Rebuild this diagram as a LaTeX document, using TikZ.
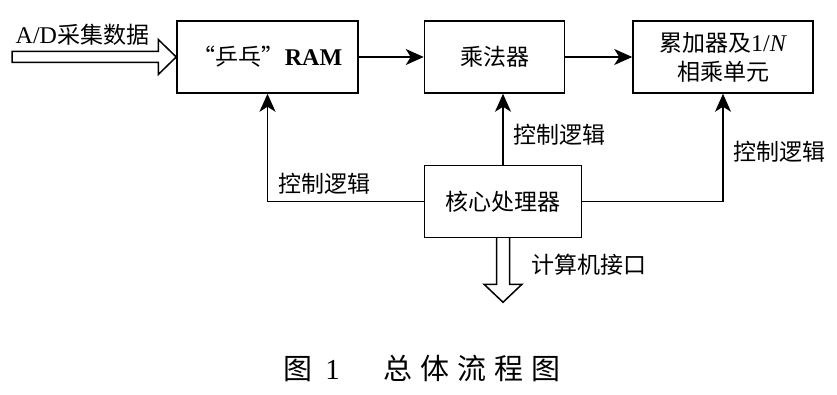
\documentclass[tikz,border=0pt]{standalone}
\usepackage{fontspec}
\setmainfont{Liberation Serif}
\newfontfamily\cjk{Noto Sans CJK SC}
\usetikzlibrary{positioning,arrows.meta,calc}
\tikzset{
  >={Stealth[length=18pt,width=16pt,inset=5pt]},
  block/.style={draw,minimum height=72pt,font=\fontsize{23}{29}\selectfont\cjk},
  lbl/.style={font=\fontsize{23}{29}\selectfont\cjk,inner sep=0pt,anchor=west},
  hollow/.style={draw,fill=white},
}
\begin{document}
\begin{tikzpicture}[
x=1pt,y=-1pt,
line width=1.5pt
]
\useasboundingbox (0,0) rectangle (837,395);
\node[block,minimum width=181pt] (ram) at (267.5,57) {“乒乓”{\rmfamily\bfseries\fontsize{24}{29}\selectfont RAM}};
\node[block,minimum width=140pt,right=65pt of ram] (mult) {乘法器};
\node[block,minimum width=180pt,right=67pt of mult,align=center] (acc) {累加器及{\rmfamily\fontsize{24}{29}\selectfont 1/\textit{N}}\\相乘单元};
\node[block,minimum width=157pt,below=71pt of mult.south west,anchor=north west] (core) {核心处理器};

\coordinate (adin) at (12,57);
\node[lbl] (adlbl) at (15,35) {{\rmfamily\fontsize{24}{29}\selectfont A/D}采集数据};
\node[lbl] (ctlram) at (278,184) {控制逻辑};
\node[lbl] (ctlmult) at (513,135) {控制逻辑};
\node[lbl] (ctlacc) at (733,152) {控制逻辑};
\node[lbl] (pclbl) at (531,265) {计算机接口};
\node[font=\fontsize{29}{31}\selectfont\cjk] (cap) at (422,368)
  {图\hspace{13pt}{\rmfamily 1}\hspace{44pt}总\hspace{8pt}体\hspace{8pt}流\hspace{8pt}程\hspace{8pt}图};

\draw[hollow] ($(adin)+(0,-5.5)$) -- ($(ram.west)+(-18,-5.5)$) -- ($(ram.west)+(-18,-17.5)$)
  -- (ram.west) -- ($(ram.west)+(-18,17.5)$) -- ($(ram.west)+(-18,5.5)$) -- ($(adin)+(0,5.5)$) -- cycle;
\draw[hollow] ($(core.south)+(-6.5,0)$) -- ++(0,46) -- ++(-12.5,0) -- ($(core.south)+(0,64)$)
  -- ++(19,-18) -- ++(-12.5,0) -- ($(core.south)+(6.5,0)$);

\path[->]
(ram) edge (mult)
(mult) edge (acc)
(core.north) edge (core.north |- mult.south);
\draw[->] (core.west) -| (ram.south);
\draw[->] (core.east) -| (acc.south);
\end{tikzpicture}
\end{document}
